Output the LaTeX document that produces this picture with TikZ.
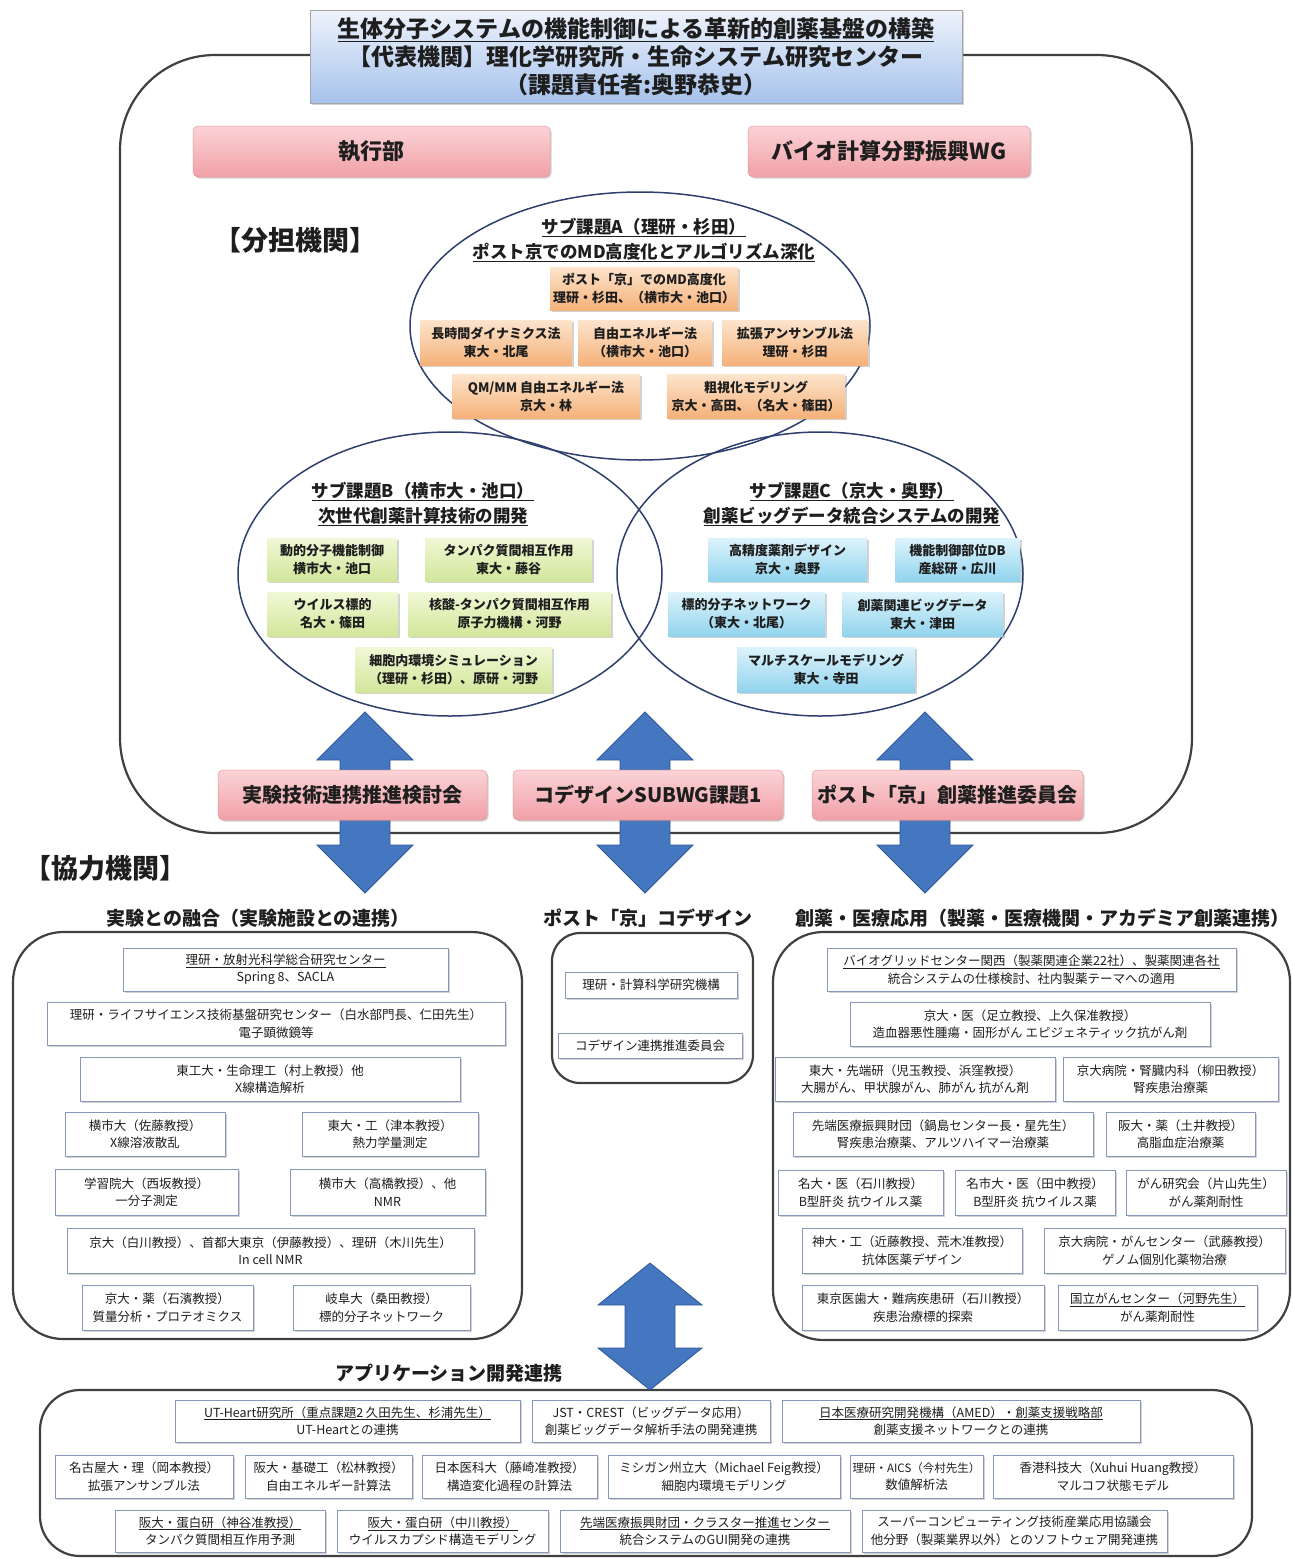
\documentclass[tikz,border=0pt]{standalone}
\usepackage{fontspec}
\setmainfont{Noto Sans CJK JP}
\usetikzlibrary{calc,shadows}
\definecolor{txt}{HTML}{1E1E1E}
\definecolor{wborder}{HTML}{8797B8}
\definecolor{regline}{HTML}{404040}
\definecolor{elline}{HTML}{2E3F6E}
\definecolor{orA}{HTML}{FDE4CC}
\definecolor{orB}{HTML}{F5B27A}
\definecolor{grA}{HTML}{F1F8D6}
\definecolor{grB}{HTML}{D2E69A}
\definecolor{cyA}{HTML}{DDF3FB}
\definecolor{cyB}{HTML}{92D4EE}
\definecolor{pkA}{HTML}{FBD3D6}
\definecolor{pkB}{HTML}{F0A0A7}
\definecolor{pkD}{HTML}{E59AA0}
\definecolor{tiA}{HTML}{EEF3FC}
\definecolor{tiB}{HTML}{A6C2EC}
\definecolor{arr}{HTML}{4576C0}
\definecolor{arrD}{HTML}{2F5896}
\newcommand\mybox[7]{\node[#1, minimum width={#5-#3}, minimum height={#6-#4}] (#2) at ({(#3+#5)/2},{(#4+#6)/2}) {#7};}
\newcommand\blockarr[4]{%
 \filldraw[fill=arr, draw=arrD, line width=0.8pt] (#1) -- ($(#1)+(#3,#4)$) -- ($(#1)+(25,#4)$) -- ($(#2)+(25,-#4)$) -- ($(#2)+(#3,-#4)$) -- (#2) -- ($(#2)+(-#3,-#4)$) -- ($(#2)+(-25,-#4)$) -- ($(#1)+(-25,#4)$) -- ($(#1)+(-#3,#4)$) -- cycle;}
\tikzset{
 every node/.style={text=txt},
 shad/.style={drop shadow={shadow xshift=1.5pt,shadow yshift=-1.5pt,opacity=0.35,fill=gray}},
 wbox/.style={draw=wborder, fill=white, line width=0.7pt, inner sep=2pt, align=center, font=\fontsize{12.5}{17.5}\selectfont, shad},
 obox/.style={top color=orA, bottom color=orB, inner sep=1pt, align=center, font=\bfseries\fontsize{13}{18}\selectfont, shad},
 gbox/.style={top color=grA, bottom color=grB, inner sep=1pt, align=center, font=\bfseries\fontsize{13}{18}\selectfont, shad},
 cbox/.style={top color=cyA, bottom color=cyB, inner sep=1pt, align=center, font=\bfseries\fontsize{13}{18}\selectfont, shad},
 pinkbox/.style={top color=pkA, bottom color=pkB, draw=pkD, line width=0.5pt, rounded corners=5pt, inner sep=2pt, font=\bfseries\fontsize{22}{26}\selectfont, shad},
 pinksm/.style={pinkbox, font=\bfseries\fontsize{20}{24}\selectfont},
 titlebox/.style={top color=tiA, bottom color=tiB, draw=gray!70, line width=0.8pt, inner sep=2pt, align=center, font=\bfseries\fontsize{23}{28}\selectfont, shad},
 region/.style={draw=regline, line width=2.2pt, fill=white},
 ell/.style={draw=elline, line width=1.5pt},
 heading/.style={font=\bfseries\fontsize{19}{24}\selectfont},
 bighead/.style={font=\bfseries\fontsize{27}{32}\selectfont},
 subtitle/.style={align=center, font=\bfseries\fontsize{17.5}{25}\selectfont},
}
\begin{document}
\begin{tikzpicture}[x=1pt,y=-1pt]
\useasboundingbox[fill=white] (0,0) rectangle (1293,1559);

% main region
\draw[region, rounded corners=95pt] (120,55) rectangle (1192,833);
\mybox{titlebox}{title}{310}{10}{962}{103}{\underline{生体分子システムの機能制御による革新的創薬基盤の構築}\\【代表機関】理化学研究所・生命システム研究センター\\（課題責任者:奥野恭史）}

\mybox{pinkbox}{exec}{193}{126}{550}{177}{執行部}
\mybox{pinkbox}{biowg}{748}{126}{1030}{177}{バイオ計算分野振興WG}
\node[bighead] (bunt) at (295,240) {【分担機関】};

% ellipses
\draw[ell] (640,326) ellipse [x radius=230, y radius=134];
\draw[ell] (450,574) ellipse [x radius=212, y radius=142];
\draw[ell] (820,574) ellipse [x radius=203, y radius=142];

\node[subtitle] (aT) at (644,240) {\underline{サブ課題A（理研・杉田）}\\\underline{ポスト京でのMD高度化とアルゴリズム深化}};
\node[subtitle] (bT) at (423,504) {\underline{サブ課題B（横市大・池口）}\\\underline{次世代創薬計算技術の開発}};
\node[subtitle] (cT) at (852,504) {\underline{サブ課題C（京大・奥野）}\\\underline{創薬ビッグデータ統合システムの開発}};

\mybox{obox}{a1}{550}{267}{738}{310}{ポスト「京」でのMD高度化\\理研・杉田、（横市大・池口）}
\mybox{obox}{a2}{420}{320}{572}{365}{長時間ダイナミクス法\\東大・北尾}
\mybox{obox}{a3}{578}{320}{712}{365}{自由エネルギー法\\（横市大・池口）}
\mybox{obox}{a4}{722}{320}{868}{365}{拡張アンサンブル法\\理研・杉田}
\mybox{obox}{a5}{452}{374}{640}{418}{QM/MM 自由エネルギー法\\京大・林}
\mybox{obox}{a6}{667}{374}{845}{418}{粗視化モデリング\\京大・高田、（名大・篠田）}

\mybox{gbox}{b1}{267}{538}{397}{581}{動的分子機能制御\\横市大・池口}
\mybox{gbox}{b2}{425}{538}{592}{581}{タンパク質間相互作用\\東大・藤谷}
\mybox{gbox}{b3}{267}{592}{398}{636}{ウイルス標的\\名大・篠田}
\mybox{gbox}{b4}{408}{592}{611}{636}{核酸-タンパク質間相互作用\\原子力機構・河野}
\mybox{gbox}{b5}{355}{647}{552}{692}{細胞内環境シミュレーション\\（理研・杉田）、原研・河野}

\mybox{cbox}{c1}{708}{538}{867}{581}{高精度薬剤デザイン\\京大・奥野}
\mybox{cbox}{c2}{895}{538}{1020}{581}{機能制御部位DB\\産総研・広川}
\mybox{cbox}{c3}{668}{592}{825}{636}{標的分子ネットワーク\\（東大・北尾）}
\mybox{cbox}{c4}{842}{592}{1003}{636}{創薬関連ビッグデータ\\東大・津田}
\mybox{cbox}{c5}{737}{647}{915}{692}{マルチスケールモデリング\\東大・寺田}

% arrows
\coordinate (a1t) at (365,712); \coordinate (a1b) at (365,893);
\coordinate (a2t) at (645,712); \coordinate (a2b) at (645,893);
\coordinate (a3t) at (925,712); \coordinate (a3b) at (925,893);
\blockarr{a1t}{a1b}{48}{48}
\blockarr{a2t}{a2b}{48}{48}
\blockarr{a3t}{a3b}{48}{48}

\mybox{pinksm}{p1}{218}{770}{487}{820}{実験技術連携推進検討会}
\mybox{pinksm}{p2}{513}{770}{783}{820}{コデザインSUBWG課題1}
\mybox{pinksm}{p3}{812}{770}{1083}{820}{ポスト「京」創薬推進委員会}

\node[bighead] (kyor) at (105,868) {【協力機関】};
\node[heading] (hL) at (258,918) {実験との融合（実験施設との連携）};
\node[heading] (hM) at (648,918) {ポスト「京」コデザイン};
\node[heading] (hR) at (1042,918) {創薬・医療応用（製薬・医療機関・アカデミア創薬連携）};

% regions
\draw[region, rounded corners=50pt] (13,932) rectangle (522,1339);
\draw[region, rounded corners=28pt] (552,933) rectangle (753,1083);
\draw[region, rounded corners=50pt] (773,932) rectangle (1290,1340);
\draw[region, rounded corners=40pt] (40,1390) rectangle (1252,1556);

% left
\mybox{wbox}{l1}{123}{948}{448}{991}{\underline{理研・放射光科学総合研究センター}\\Spring 8、SACLA}
\mybox{wbox}{l2}{47}{1002}{505}{1045}{理研・ライフサイエンス技術基盤研究センター（白水部門長、仁田先生）\\電子顕微鏡等}
\mybox{wbox}{l3}{80}{1057}{460}{1101}{東工大・生命理工（村上教授）他\\X線構造解析}
\mybox{wbox}{l4}{65}{1112}{225}{1156}{横市大（佐藤教授）\\X線溶液散乱}
\mybox{wbox}{l5}{302}{1112}{478}{1156}{東大・工（津本教授）\\熱力学量測定}
\mybox{wbox}{l6}{55}{1169}{238}{1215}{学習院大（西坂教授）\\一分子測定}
\mybox{wbox}{l7}{290}{1169}{485}{1215}{横市大（高橋教授）、他\\NMR}
\mybox{wbox}{l8}{67}{1228}{474}{1273}{京大（白川教授）、首都大東京（伊藤教授）、理研（木川先生）\\In cell NMR}
\mybox{wbox}{l9}{82}{1285}{253}{1330}{京大・薬（石濱教授）\\質量分析・プロテオミクス}
\mybox{wbox}{l10}{293}{1285}{470}{1330}{岐阜大（桑田教授）\\標的分子ネットワーク}

% middle
\mybox{wbox}{m1}{565}{972}{737}{998}{理研・計算科学研究機構}
\mybox{wbox}{m2}{558}{1033}{742}{1058}{コデザイン連携推進委員会}

% right
\mybox{wbox}{r1}{827}{948}{1236}{991}{\underline{バイオグリッドセンター関西（製薬関連企業22社）、製薬関連各社}\\統合システムの仕様検討、社内製薬テーマへの適用}
\mybox{wbox}{r2}{850}{1002}{1210}{1046}{京大・医（足立教授、上久保准教授）\\造血器悪性腫瘍・固形がん エピジェネティック抗がん剤}
\mybox{wbox}{r3}{775}{1057}{1055}{1101}{東大・先端研（児玉教授、浜窪教授）\\大腸がん、甲状腺がん、肺がん 抗がん剤}
\mybox{wbox}{r4}{1063}{1057}{1278}{1101}{京大病院・腎臓内科（柳田教授）\\腎疾患治療薬}
\mybox{wbox}{r5}{793}{1112}{1093}{1156}{先端医療振興財団（鍋島センター長・星先生）\\腎疾患治療薬、アルツハイマー治療薬}
\mybox{wbox}{r6}{1106}{1112}{1255}{1156}{阪大・薬（土井教授）\\高脂血症治療薬}
\mybox{wbox}{r7}{778}{1170}{943}{1215}{名大・医（石川教授）\\B型肝炎 抗ウイルス薬}
\mybox{wbox}{r8}{955}{1170}{1115}{1215}{名市大・医（田中教授）\\B型肝炎 抗ウイルス薬}
\mybox{wbox}{r9}{1126}{1170}{1286}{1215}{がん研究会（片山先生）\\がん薬剤耐性}
\mybox{wbox}{r10}{802}{1228}{1022}{1273}{神大・工（近藤教授、荒木准教授）\\抗体医薬デザイン}
\mybox{wbox}{r11}{1044}{1228}{1285}{1273}{京大病院・がんセンター（武藤教授）\\ゲノム個別化薬物治療}
\mybox{wbox}{r12}{802}{1285}{1044}{1330}{東京医歯大・難病疾患研（石川教授）\\疾患治療標的探索}
\mybox{wbox}{r13}{1058}{1285}{1257}{1330}{\underline{国立がんセンター（河野先生）}\\がん薬剤耐性}

% bottom
\node[heading] (hB) at (449,1373) {アプリケーション開発連携};
\coordinate (a4t) at (650,1263); \coordinate (a4b) at (650,1390);
\blockarr{a4t}{a4b}{52}{42}

\mybox{wbox}{u1}{175}{1400}{520}{1442}{\underline{UT-Heart研究所（重点課題2 久田先生、杉浦先生）}\\UT-Heartとの連携}
\mybox{wbox}{u2}{532}{1400}{770}{1442}{JST・CREST（ビッグデータ応用）\\創薬ビッグデータ解析手法の開発連携}
\mybox{wbox}{u3}{782}{1400}{1140}{1442}{\underline{日本医療研究開発機構（AMED）・創薬支援戦略部}\\創薬支援ネットワークとの連携}
\mybox{wbox}{v1}{55}{1455}{233}{1498}{名古屋大・理（岡本教授）\\拡張アンサンブル法}
\mybox{wbox}{v2}{245}{1455}{412}{1498}{阪大・基礎工（松林教授）\\自由エネルギー計算法}
\mybox{wbox}{v3}{422}{1455}{597}{1498}{日本医科大（藤崎准教授）\\構造変化過程の計算法}
\mybox{wbox}{v4}{608}{1455}{840}{1498}{ミシガン州立大（Michael Feig教授）\\細胞内環境モデリング}
\mybox{wbox}{v5}{850}{1455}{983}{1498}{\fontsize{11.5}{17.5}\selectfont 理研・AICS（今村先生）\\数値解析法}
\mybox{wbox}{v6}{993}{1455}{1233}{1498}{香港科技大（Xuhui Huang教授）\\マルコフ状態モデル}
\mybox{wbox}{w1}{115}{1510}{325}{1552}{\underline{阪大・蛋白研（神谷准教授）}\\タンパク質間相互作用予測}
\mybox{wbox}{w2}{337}{1510}{548}{1552}{\underline{阪大・蛋白研（中川教授）}\\ウイルスカプシド構造モデリング}
\mybox{wbox}{w3}{560}{1510}{850}{1552}{\underline{先端医療振興財団・クラスター推進センター}\\統合システムのGUI開発の連携}
\mybox{wbox}{w4}{862}{1510}{1167}{1552}{スーパーコンピューティング技術産業応用協議会\\他分野（製薬業界以外）とのソフトウェア開発連携}
\end{tikzpicture}
\end{document}
